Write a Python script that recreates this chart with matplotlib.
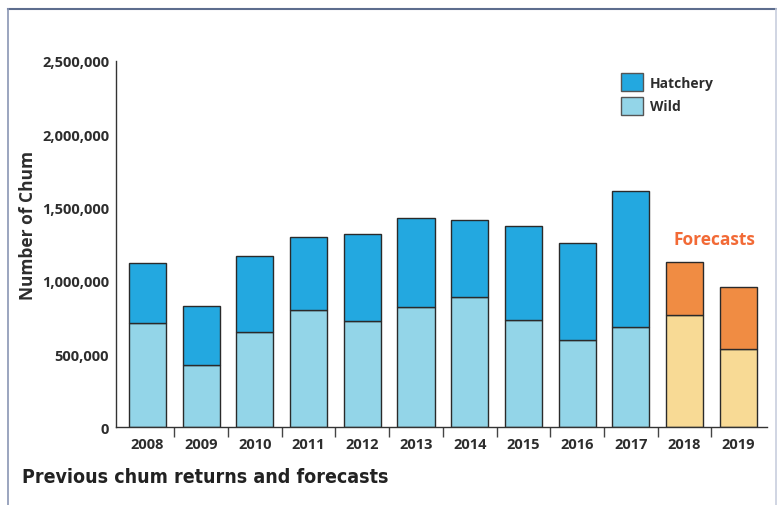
import matplotlib
matplotlib.use('Agg')
import matplotlib.pyplot as plt
from matplotlib.patches import Patch
from matplotlib.lines import Line2D
import numpy as np

years = ['2008', '2009', '2010', '2011', '2012', '2013', '2014',
         '2015', '2016', '2017', '2018', '2019']
totals = [1122000, 832000, 1169000, 1300000, 1322000, 1429000, 1415000,
          1372000, 1258000, 1615000, 1126000, 957000]
wild = [714000, 425000, 650000, 800000, 727000, 823000, 889000,
        732000, 595000, 684000, 768000, 534000]
is_forecast = [False] * 10 + [True, True]

hatchery = [t - w for t, w in zip(totals, wild)]

c_hatch = '#23a8e0'
c_wild = '#93d5e8'
c_fc_hatch = '#f08c43'
c_fc_wild = '#f8da95'
edge = '#2a2a2a'
txt = '#2d2d2d'

plt.rcParams['font.family'] = ['Open Sans', 'DejaVu Sans']

fig = plt.figure(figsize=(7.77, 5.06), dpi=100)
ax = fig.add_axes([0.1493, 0.1532, 0.8374, 0.7243])

x = np.arange(len(years))
wild_cols = [c_fc_wild if f else c_wild for f in is_forecast]
hatch_cols = [c_fc_hatch if f else c_hatch for f in is_forecast]

ax.bar(x, wild, width=0.69, color=wild_cols, edgecolor=edge, linewidth=1)
ax.bar(x, hatchery, bottom=wild, width=0.69, color=hatch_cols,
       edgecolor=edge, linewidth=1)

ax.set_xlim(-0.587, 11.53)
ax.set_ylim(0, 2500000)
ax.set_yticks([0, 500000, 1000000, 1500000, 2000000, 2500000])
ax.set_yticklabels(['{:,}'.format(v) for v in ax.get_yticks().astype(int)],
                   fontsize=10.5, fontweight='bold', color=txt)
ax.set_xticks(x)
ax.set_xticklabels(years, fontsize=10.5, fontweight='bold', color=txt)
ax.set_xticks(x[:-1] + 0.5, minor=True)
ax.tick_params(axis='x', which='major', length=0, pad=7)
ax.tick_params(axis='x', which='minor', length=7, width=1, color='#444444',
               direction='out')
ax.tick_params(axis='y', length=0, pad=5)

for s in ['top', 'right']:
    ax.spines[s].set_visible(False)
for s in ['left', 'bottom']:
    ax.spines[s].set_color('#333333')
    ax.spines[s].set_linewidth(1)

ax.set_ylabel('Number of Chum', fontsize=12.5, fontweight='bold', color=txt)
ax.yaxis.set_label_coords(-0.121, 0.555)

ax.text(10.55, 1287000, 'Forecasts', fontsize=12.5, fontweight='bold',
        color='#f26a36', ha='center', va='center')

handles = [Patch(facecolor=c_hatch, edgecolor='#555555', linewidth=1),
           Patch(facecolor=c_wild, edgecolor='#555555', linewidth=1)]
leg = ax.legend(handles, ['Hatchery', 'Wild'], loc='upper left',
                bbox_to_anchor=(0.757, 1.0), frameon=False,
                prop={'size': 10, 'weight': 'bold'},
                handlelength=1.6, handleheight=1.6,
                labelspacing=0.4, handletextpad=0.5)
for t in leg.get_texts():
    t.set_color(txt)

fig.text(0.028, 0.057, 'Previous chum returns and forecasts',
         fontsize=14, fontweight='bold', color='#222222',
         family='DejaVu Sans', fontstretch='condensed', va='center')

# page frame
fig.add_artist(Line2D([0.0103, 0.9987], [0.9802, 0.9802], color='#5d6d8e',
                      linewidth=1.5))
fig.add_artist(Line2D([0.0103, 0.0103], [0.9802, 0.0], color='#8a96b4',
                      linewidth=1.2))
fig.add_artist(Line2D([0.9987, 0.9987], [0.9802, 0.0], color='#c8cede',
                      linewidth=1.2))

fig.savefig('out.png', dpi=100)
